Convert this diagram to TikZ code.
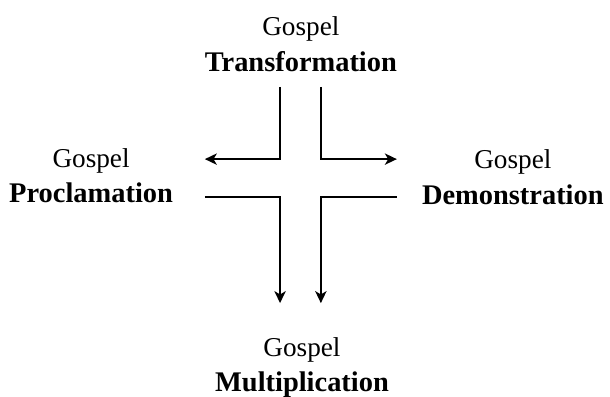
\documentclass[tikz,border=0pt]{standalone}
\usepackage{fontspec}
\setmainfont{Liberation Serif}
\usetikzlibrary{arrows.meta}
\newcommand\headword[1]{{\fontsize{21.4}{27}\selectfont\bfseries #1}}
\begin{document}
\begin{tikzpicture}
    \tikzstyle{line} = [-{Stealth[length=9pt,width=8.5pt,inset=2.5pt]}, line width=1.5pt]
    \tikzstyle{lbl} = [align=center, anchor=base, inner sep=0pt,
    font=\fontsize{20.5}{27}\selectfont]

    \useasboundingbox (0,0) rectangle (16.14,-10.50);

    \node(trans) [lbl] at (7.96,-1.88) {Gospel\\\headword{Transformation}};
    \node(procl) [lbl] at (2.41,-5.37) {Gospel\\\headword{Proclamation}};
    \node(demon) [lbl] at (13.57,-5.40) {Gospel\\\headword{Demonstration}};
    \node(multi) [lbl] at (7.99,-10.37) {Gospel\\\headword{Multiplication}};

    % corners of the cross
    \coordinate(topl) at (7.41,-2.30);
    \coordinate(topr) at (8.49,-2.30);
    \coordinate(procltip) at (5.42,-4.21);
    \coordinate(demontip) at (10.50,-4.21);
    \coordinate(proclend) at (5.42,-5.21);
    \coordinate(demonend) at (10.50,-5.21);
    \coordinate(multil) at (7.41,-8.02);
    \coordinate(multir) at (8.49,-8.02);

    \draw[line] (topl) |- (procltip);
    \draw[line] (topr) |- (demontip);
    \draw[line] (proclend) -| (multil);
    \draw[line] (demonend) -| (multir);
\end{tikzpicture}
\end{document}
